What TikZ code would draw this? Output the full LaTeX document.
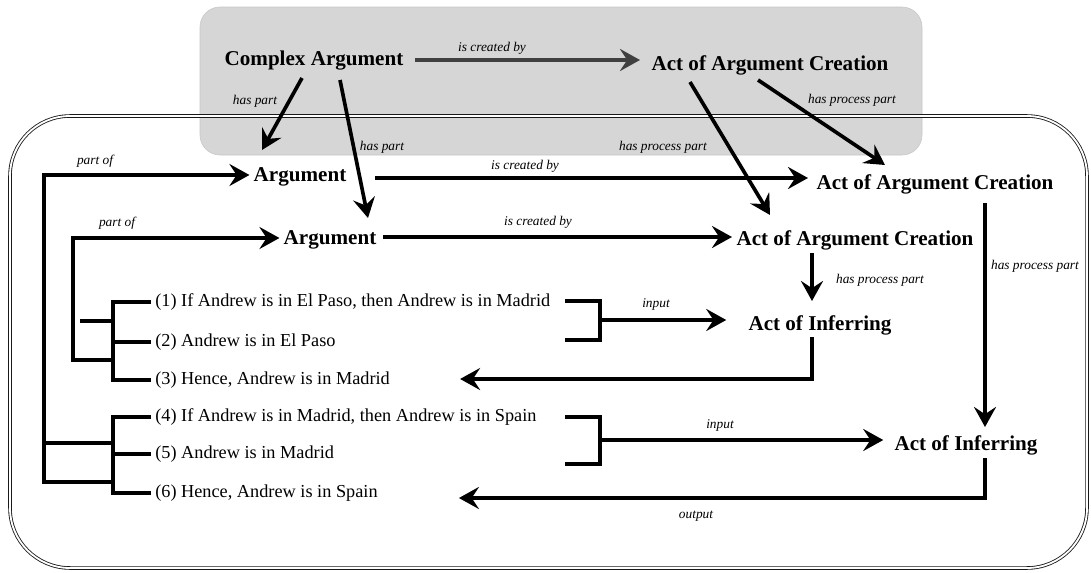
\documentclass[tikz,border=0pt]{standalone}
\usepackage{fontspec}
\setmainfont{Liberation Serif}
\usepackage{tikz}
\usetikzlibrary{arrows.meta,calc}

\begin{document}
\begin{tikzpicture}[
        x=0.025cm, y=-0.025cm,
        concept/.style={font=\fontsize{15}{18}\selectfont\bfseries, inner sep=0pt},
        stmt/.style={font=\fontsize{13}{16}\selectfont, anchor=west, inner sep=0pt},
        rel/.style={font=\fontsize{9.5}{11}\selectfont\itshape, inner sep=0pt},
        link/.style={line width=2.6pt},
        arrow/.style={link, -{Stealth[length=5mm, width=5.5mm, inset=1.8mm]}}
    ]
        \useasboundingbox (0,0) rectangle (1091,572);

        % Frames
        \fill[black!16, draw=black!22, rounded corners=0.5cm] (200,7) rectangle (922,155);
        \draw[black!90, line width=0.6pt, double, double distance=1.3pt, rounded corners=1.5cm] (10,116) rectangle (1087,568);

        % Concepts
        \node[concept] (cplx) at (314,61) {Complex Argument};
        \node[concept] (act0) at (770,65) {Act of Argument Creation};
        \node[concept] (arg1) at (300,177) {Argument};
        \node[concept] (act1) at (935,184) {Act of Argument Creation};
        \node[concept] (arg2) at (330,240) {Argument};
        \node[concept] (act2) at (855,240) {Act of Argument Creation};
        \node[concept] (inf1) at (820,325) {Act of Inferring};
        \node[concept] (inf2) at (966,445) {Act of Inferring};

        % Statements
        \node[stmt] (p1) at (155,302) {(1) If Andrew is in El Paso, then Andrew is in Madrid};
        \node[stmt] (p2) at (155,342) {(2) Andrew is in El Paso};
        \node[stmt] (p3) at (155,380) {(3) Hence, Andrew is in Madrid};
        \node[stmt] (p4) at (155,417) {(4) If Andrew is in Madrid, then Andrew is in Spain};
        \node[stmt] (p5) at (155,454) {(5) Andrew is in Madrid};
        \node[stmt] (p6) at (155,493) {(6) Hence, Andrew is in Spain};

        % Junctions
        \coordinate (in1) at (600,320);
        \coordinate (in2) at (600,440);
        \coordinate (out1) at (812,379);
        \coordinate (out2) at (985,498);

        % Relation labels
        \node[rel] (l1) at (492,48) {is created by};
        \node[rel] (l2) at (255,101) {has part};
        \node[rel] (l3) at (382,147) {has part};
        \node[rel] (l4) at (852,100) {has process part};
        \node[rel] (l5) at (663,147) {has process part};
        \node[rel] (l6) at (95,161) {part of};
        \node[rel] (l7) at (525,166) {is created by};
        \node[rel] (l8) at (117,223) {part of};
        \node[rel] (l9) at (538,222) {is created by};
        \node[rel] (l10) at (880,280) {has process part};
        \node[rel] (l11) at (1035,266) {has process part};
        \node[rel] (l12) at (656,304) {input};
        \node[rel] (l13) at (720,425) {input};
        \node[rel] (l14) at (696,516) {output};

        % Arrows
        \draw[arrow, black!75] ($(cplx)+(101,-1)$) -- ($(act0)+(-130,-5)$);
        \draw[arrow] ($(cplx)+(-12,17)$) -- ($(arg1)+(-38,-27)$);
        \draw[arrow] ($(cplx)+(26,19)$) -- ($(arg2)+(38,-22)$);
        \draw[arrow] ($(act0)+(-80,17)$) -- ($(act2)+(-85,-25)$);
        \draw[arrow] ($(act0)+(-12,15)$) -- ($(act1)+(-50,-19)$);
        \draw[arrow] ($(arg1)+(75,1)$) -- ($(act1)+(-127,-6)$);
        \draw[arrow] ($(arg2)+(53,-3)$) -- ($(act2)+(-123,-3)$);
        \draw[arrow] ($(act2)+(-43,13)$) -- ($(inf1)+(-8,-24)$);
        \draw[arrow] ($(act1)+(50,19)$) -- ($(inf2)+(19,-18)$);

        % Argument trees
        \draw[link] ($(p1.west)+(-4,0)$) -- (113,302) -- (113,380) -- ($(p3.west)+(-4,0)$);
        \draw[link] (113,342) -- ($(p2.west)+(-4,0)$);
        \draw[link] (80,321) -- (113,321);
        \draw[arrow] (113,360) -- (73,360) -- (73,238) -- ($(arg2.west)+(-4,-2)$);
        \draw[link] ($(p4.west)+(-4,0)$) -- (113,417) -- (113,493) -- ($(p6.west)+(-4,0)$);
        \draw[link] (113,454) -- ($(p5.west)+(-4,0)$);
        \draw[link] (113,443) -- (44,443);
        \draw[arrow] (113,482) -- (44,482) -- (44,175) -- ($(arg1.west)+(-4,-2)$);

        % Inference
        \draw[link] (565,301) -- (600,301) -- (600,340) -- (565,340);
        \draw[arrow] (in1) -- ($(inf1.west)+(-22,-5)$);
        \draw[arrow] ($(inf1)+(-8,12)$) -- (out1) -- ($(p3.east)+(70,-1)$);
        \draw[link] (565,417) -- (600,417) -- (600,464) -- (565,464);
        \draw[arrow] (in2) -- ($(inf2.west)+(-11,-5)$);
        \draw[arrow] ($(inf2)+(19,13)$) -- (out2) -- ($(p6.east)+(81,5)$);

    \end{tikzpicture}
\end{document}
